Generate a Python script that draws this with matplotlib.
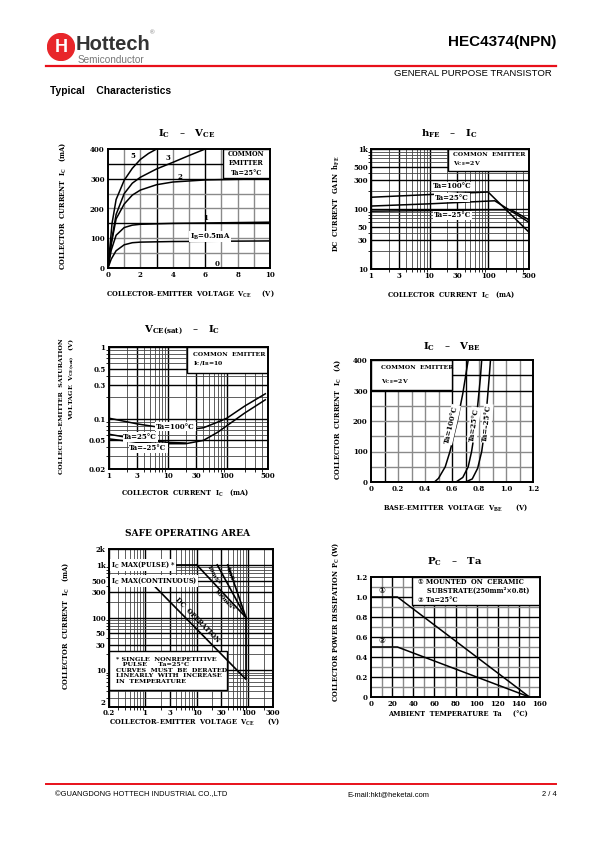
import matplotlib
matplotlib.use("Agg")
import matplotlib.pyplot as plt
import numpy as np
from matplotlib.patches import Circle, Rectangle
from matplotlib.lines import Line2D
from matplotlib.ticker import FixedLocator, FixedFormatter, LogLocator, NullFormatter

W, H = 595, 842

# ---------------- data ----------------
# Ic - Vce  (V, mA), one curve per base current
vce_05 = [0, 0.2, 0.5, 1, 1.5, 2, 4, 10]
ic_05 = [0, 30, 58, 78, 85, 87, 89, 91]
vce_1 = [0, 0.2, 0.5, 1, 1.5, 2, 4, 10]
ic_1 = [0, 60, 110, 136, 144, 147, 150, 154]
vce_2 = [0, 0.2, 0.5, 1, 1.5, 2, 3, 4, 6, 10]
ic_2 = [0, 80, 165, 215, 245, 262, 280, 289, 296, 300]
vce_3 = [0, 0.2, 0.5, 1, 1.5, 2, 3, 4, 5, 6]
ic_3 = [0, 85, 180, 250, 285, 305, 333, 355, 378, 400]
vce_5 = [0, 0.1, 0.25, 0.5, 1, 1.5, 2, 2.5, 3]
ic_5 = [0, 60, 150, 230, 295, 335, 365, 385, 400]

# hFE - Ic  (mA)
hfe_ic_100 = [1, 10, 100, 500]
hfe_100 = [157, 174, 192, 41]
hfe_ic_25 = [1, 10, 130, 500]
hfe_25 = [112, 122, 137, 60]
hfe_ic_m25 = [1, 10, 100, 250, 500]
hfe_m25 = [92, 94, 97, 97, 66]

# VCE(sat) - Ic  (mA, V)
sat_ic = [1, 3, 10, 20, 40, 70, 100, 200, 450]
sat_100 = [0.102, 0.085, 0.073, 0.070, 0.075, 0.090, 0.102, 0.15, 0.223]
sat_ic_25 = [1, 3, 10, 20]
sat_25 = [0.061, 0.052, 0.047, 0.046]
sat_ic_low = [1, 3, 10, 20, 40, 70, 100, 200, 450]
sat_low = [0.0525, 0.047, 0.045, 0.045, 0.05, 0.065, 0.08, 0.12, 0.184]

# Ic - Vbe  (V, mA)
vbe_100 = [0, 0.47, 0.5, 0.55, 0.585, 0.64, 0.68, 0.72]
ic_vbe_100 = [0, 0, 12, 50, 100, 200, 290, 400]
vbe_25 = [0, 0.63, 0.68, 0.72, 0.745, 0.77, 0.79, 0.81, 0.82]
ic_vbe_25 = [0, 0, 15, 50, 100, 170, 250, 340, 400]
vbe_m25 = [0, 0.7, 0.75, 0.79, 0.82, 0.845, 0.86, 0.875, 0.885]
ic_vbe_m25 = [0, 0, 10, 45, 100, 180, 260, 340, 400]

# Safe operating area  (V, mA)
soa_pulse_v = [0.2, 10]
soa_pulse_i = [1000, 1000]
soa_dc_v = [0.2, 1.2, 90, 90]
soa_dc_i = [500, 500, 6.7, 100]
soa_100ms_v = [10, 90]
soa_100ms_i = [1000, 100]
soa_10ms_v = [25, 90]
soa_10ms_i = [1000, 100]
soa_1ms_v = [40, 90]
soa_1ms_i = [1000, 100]

# Pc - Ta  (degC, W)
ta_1 = [0, 25, 150]
pc_1 = [1.0, 1.0, 0]
ta_2 = [0, 25, 150]
pc_2 = [0.5, 0.5, 0]

plt.rcParams['font.family'] = ['DejaVu Serif', 'DejaVu Sans']
plt.rcParams['font.weight'] = 'bold'
plt.rcParams['mathtext.default'] = 'regular'

TICK = 5.0
LAB = 4.8
TTL = 7.3
BOX = 4.4
GRAY = '#8a8a8a'

fig = plt.figure(figsize=(W / 100, H / 100), dpi=100)


def ftext(x, y, s, **kw):
    return fig.text(x / W, 1 - y / H, s, **kw)


def make_ax(x0, y0, x1, y1):
    ax = fig.add_axes([x0 / W, 1 - y1 / H, (x1 - x0) / W, (y1 - y0) / H])
    for s in ax.spines.values():
        s.set_linewidth(1.4)
        s.set_zorder(6)
    ax.tick_params(length=0, labelsize=TICK, pad=2.5)
    return ax


def log_grid(ax):
    ax.xaxis.set_minor_locator(LogLocator(base=10, subs=np.arange(2, 10)))
    ax.yaxis.set_minor_locator(LogLocator(base=10, subs=np.arange(2, 10)))
    ax.xaxis.set_minor_formatter(NullFormatter())
    ax.yaxis.set_minor_formatter(NullFormatter())
    ax.grid(which='major', color='black', lw=1.0, zorder=1)
    ax.grid(which='minor', color='#444444', lw=0.6, zorder=1)
    ax.set_axisbelow(True)


def white_box(ax, x0, y0, x1, y1):
    ax.add_patch(Rectangle((x0, y0), x1 - x0, y1 - y0, transform=ax.transAxes,
                           fc='white', ec='black', lw=1.0, zorder=3))


wb = dict(fc='white', ec='none', pad=0.6)

# ---------------- header / footer ----------------
logo = fig.add_axes([47 / W, 1 - 61 / H, 28 / W, 28 / H])
logo.set_xlim(0, 1)
logo.set_ylim(0, 1)
logo.axis('off')
logo.add_patch(Circle((0.5, 0.5), 0.48, color='#e8262a'))
logo.text(0.5, 0.47, 'H', color='white', ha='center', va='center',
          fontsize=13, family='Liberation Sans', weight='bold')
ftext(76, 50.5, 'Hottech', fontsize=14.5, family='Liberation Sans', weight='bold',
      color='#333333', va='baseline')
ftext(78, 55, 'Semiconductor', fontsize=7.2, family='Liberation Sans', weight='normal',
      color='#777777', va='top')
ftext(150, 33, '®', fontsize=4.5, family='Liberation Sans', weight='normal', color='#777777',
      va='center')
ftext(556, 42, 'HEC4374(NPN)', fontsize=11, family='Liberation Sans', weight='bold',
      ha='right', va='center')
fig.add_artist(Line2D([46 / W, 556 / W], [1 - 65.7 / H] * 2, color='#e8101a', lw=1.6))
ftext(552, 74, 'GENERAL PURPOSE TRANSISTOR', fontsize=6.8, family='Liberation Sans',
      weight='normal', ha='right', va='center')
ftext(50, 90.5, 'Typical    Characteristics', fontsize=7.4, family='Liberation Sans',
      weight='bold', va='center')

fig.add_artist(Line2D([46 / W, 556 / W], [1 - 784.3 / H] * 2, color='#e8101a', lw=1.4))
ftext(55, 795, '©GUANGDONG HOTTECH INDUSTRIAL CO.,LTD', fontsize=5.4,
      family='Liberation Sans', weight='normal', va='center')
ftext(347, 795, 'E-mail:hkt@heketai.com', fontsize=5.4, family='Liberation Sans',
      weight='normal', va='center')
ftext(557, 795, '2 / 4', fontsize=5.4, family='Liberation Sans', weight='normal',
      ha='right', va='center')

# ---------------- Ic - Vce ----------------
ax1 = make_ax(108, 149, 270, 268)
ax1.set_xlim(0, 10)
ax1.set_ylim(0, 400)
ax1.set_xticks(np.arange(0, 11, 2))
ax1.set_yticks(np.arange(0, 401, 100))
for v in range(1, 10):
    ax1.axvline(v, color='black' if v in (3, 6) else GRAY, lw=1.0, zorder=1)
for v in range(50, 400, 50):
    ax1.axhline(v, color='black' if v in (150, 300, 350) else GRAY, lw=1.0, zorder=1)
white_box(ax1, 0.711, 0.756, 1.0, 1.0)
ax1.text(0.855, 0.88, 'COMMON\nEMITTER\nTa=25°C', transform=ax1.transAxes, ha='center',
         va='center', fontsize=4.7, zorder=7, linespacing=1.25)
for xs, ys in [(vce_05, ic_05), (vce_1, ic_1), (vce_2, ic_2), (vce_3, ic_3), (vce_5, ic_5)]:
    ax1.plot(xs, ys, color='black', lw=1.1, zorder=4, clip_on=True)
ax1.plot([0, 10], [0, 0], color='black', lw=1.1, zorder=4)
ax1.text(1.55, 378, '5', fontsize=TICK, ha='center', va='center', zorder=7)
ax1.text(3.7, 370, '3', fontsize=TICK, ha='center', va='center', zorder=7)
ax1.text(4.45, 307, '2', fontsize=TICK, ha='center', va='center', zorder=7)
ax1.text(6.05, 168, '1', fontsize=TICK, ha='center', va='center', zorder=7)
ax1.text(6.3, 106, 'I$_B$=0.5mA', fontsize=TICK, ha='center', va='center', zorder=7, bbox=wb)
ax1.text(6.76, 15, '0', fontsize=TICK, ha='center', va='center', zorder=7)
ftext(187, 134, 'I$_C$   –   V$_{CE}$', fontsize=TTL, ha='center', va='center')
ftext(63, 206, 'COLLECTOR  CURRENT  I$_C$   (mA)', fontsize=LAB, rotation=90,
      ha='center', va='center')
ftext(190, 294, 'COLLECTOR–EMITTER  VOLTAGE  V$_{CE}$     (V)', fontsize=LAB,
      ha='center', va='center')

# ---------------- hFE - Ic ----------------
ax2 = make_ax(371, 149, 529, 269)
ax2.set_xscale('log')
ax2.set_yscale('log')
ax2.set_xlim(1, 500)
ax2.set_ylim(10, 1000)
log_grid(ax2)
ax2.xaxis.set_major_locator(FixedLocator([1, 3, 10, 30, 100, 500]))
ax2.xaxis.set_major_formatter(FixedFormatter(['1', '3', '10', '30', '100', '500']))
ax2.yaxis.set_major_locator(FixedLocator([10, 30, 50, 100, 300, 500, 1000]))
ax2.yaxis.set_major_formatter(FixedFormatter(['10', '30', '50', '100', '300', '500', '1k']))
white_box(ax2, 0.488, 0.813, 1.0, 1.0)
ax2.text(0.52, 0.905, 'COMMON  EMITTER\nV$_{CE}$=2V', transform=ax2.transAxes, ha='left',
         va='center', fontsize=BOX, zorder=7, linespacing=1.35)
for xs, ys in [(hfe_ic_100, hfe_100), (hfe_ic_25, hfe_25), (hfe_ic_m25, hfe_m25)]:
    ax2.plot(xs, ys, color='black', lw=1.1, zorder=4)
ax2.text(24, 238, 'Ta=100°C', fontsize=TICK, ha='center', va='center', zorder=7, bbox=wb)
ax2.text(24, 155, 'Ta=25°C', fontsize=TICK, ha='center', va='center', zorder=7, bbox=wb)
ax2.text(25, 78, 'Ta=–25°C', fontsize=TICK, ha='center', va='center', zorder=7, bbox=wb)
ftext(449, 134, 'h$_{FE}$   –   I$_C$', fontsize=TTL, ha='center', va='center')
ftext(336, 204, 'DC  CURRENT  GAIN  h$_{FE}$', fontsize=LAB, rotation=90,
      ha='center', va='center')
ftext(451, 295, 'COLLECTOR  CURRENT  I$_C$   (mA)', fontsize=LAB, ha='center', va='center')

# ---------------- VCE(sat) - Ic ----------------
ax3 = make_ax(109, 347, 268, 469)
ax3.set_xscale('log')
ax3.set_yscale('log')
ax3.set_xlim(1, 500)
ax3.set_ylim(0.02, 1)
log_grid(ax3)
ax3.xaxis.set_major_locator(FixedLocator([1, 3, 10, 30, 100, 500]))
ax3.xaxis.set_major_formatter(FixedFormatter(['1', '3', '10', '30', '100', '500']))
ax3.yaxis.set_major_locator(FixedLocator([0.02, 0.05, 0.1, 0.3, 0.5, 1]))
ax3.yaxis.set_major_formatter(FixedFormatter(['0.02', '0.05', '0.1', '0.3', '0.5', '1']))
white_box(ax3, 0.488, 0.786, 1.0, 1.0)
ax3.text(0.53, 0.893, 'COMMON  EMITTER\nI$_C$/I$_B$=10', transform=ax3.transAxes,
         ha='left', va='center', fontsize=BOX, zorder=7, linespacing=1.35)
for xs, ys in [(sat_ic, sat_100), (sat_ic_25, sat_25), (sat_ic_low, sat_low)]:
    ax3.plot(xs, ys, color='black', lw=1.1, zorder=4)
ax3.text(13.5, 0.078, 'Ta=100°C', fontsize=TICK, ha='center', va='center', zorder=7, bbox=wb)
ax3.text(3.4, 0.056, 'Ta=25°C', fontsize=TICK, ha='center', va='center', zorder=7, bbox=wb)
ax3.text(4.6, 0.039, 'Ta=–25°C', fontsize=TICK, ha='center', va='center', zorder=7, bbox=wb)
ftext(182, 330, 'V$_{CE(sat)}$   –   I$_C$', fontsize=TTL, ha='center', va='center')
ftext(62, 338, 'COLLECTOR–EMITTER  SATURATION', fontsize=4.6, rotation=90,
      ha='center', va='top')
ftext(71.5, 338, 'VOLTAGE  V$_{CE(sat)}$   (V)', fontsize=4.6, rotation=90,
      ha='center', va='top')
ftext(185, 493, 'COLLECTOR  CURRENT  I$_C$   (mA)', fontsize=LAB, ha='center', va='center')

# ---------------- Ic - Vbe ----------------
ax4 = make_ax(371, 360, 533, 482)
ax4.set_xlim(0, 1.2)
ax4.set_ylim(0, 400)
ax4.set_xticks(np.arange(0, 1.21, 0.2))
ax4.set_xticklabels(['0', '0.2', '0.4', '0.6', '0.8', '1.0', '1.2'])
ax4.set_yticks(np.arange(0, 401, 100))
for i in range(1, 12):
    ax4.axvline(i / 10, color='black' if i in (1, 6, 7) else GRAY, lw=1.0, zorder=1)
for v in range(50, 400, 50):
    ax4.axhline(v, color='black' if v in (300, 350) else GRAY, lw=1.0, zorder=1)
white_box(ax4, 0.0, 0.753, 0.498, 1.0)
ax4.text(0.06, 0.876, 'COMMON  EMITTER\n\nV$_{CE}$=2V', transform=ax4.transAxes, ha='left',
         va='center', fontsize=BOX, zorder=7, linespacing=1.2)
for xs, ys in [(vbe_100, ic_vbe_100), (vbe_25, ic_vbe_25), (vbe_m25, ic_vbe_m25)]:
    ax4.plot(xs, ys, color='black', lw=1.1, zorder=4)
ax4.text(0.598, 188, 'Ta=100°C', fontsize=TICK, rotation=77, ha='center', va='center',
         zorder=7, bbox=wb)
ax4.text(0.762, 188, 'Ta=25°C', fontsize=TICK, rotation=82, ha='center', va='center',
         zorder=7, bbox=wb)
ax4.text(0.858, 192, 'Ta=–25°C', fontsize=TICK, rotation=84, ha='center', va='center',
         zorder=7, bbox=wb)
ftext(452, 347, 'I$_C$   –   V$_{BE}$', fontsize=TTL, ha='center', va='center')
ftext(338, 420, 'COLLECTOR  CURRENT  I$_C$   (A)', fontsize=LAB, rotation=90,
      ha='center', va='center')
ftext(455, 508, 'BASE–EMITTER  VOLTAGE  V$_{BE}$      (V)', fontsize=LAB,
      ha='center', va='center')

# ---------------- Safe operating area ----------------
ax5 = make_ax(109, 549, 273, 707)
ax5.set_xscale('log')
ax5.set_yscale('log')
ax5.set_xlim(0.2, 300)
ax5.set_ylim(2, 2000)
log_grid(ax5)
ax5.xaxis.set_major_locator(FixedLocator([0.2, 1, 3, 10, 30, 100, 300]))
ax5.xaxis.set_major_formatter(FixedFormatter(['0.2', '1', '3', '10', '30', '100', '300']))
ax5.yaxis.set_major_locator(FixedLocator([2, 10, 30, 50, 100, 300, 500, 1000, 2000]))
ax5.yaxis.set_major_formatter(FixedFormatter(['2', '10', '30', '50', '100', '300', '500',
                                              '1k', '2k']))
ax5.tick_params(axis='x', pad=1.5)
ax5.get_yticklabels()[0].set_verticalalignment('bottom')
white_box(ax5, 0.0, 0.11, 0.72, 0.352)
ax5.text(0.04, 0.232, '* SINGLE  NONREPETITIVE\n   PULSE     Ta=25°C\n'
         'CURVES  MUST  BE  DERATED\nLINEARLY  WITH  INCREASE\nIN  TEMPERATURE',
         transform=ax5.transAxes, ha='left', va='center', fontsize=4.6, zorder=7,
         linespacing=1.15)
for xs, ys in [(soa_pulse_v, soa_pulse_i), (soa_dc_v, soa_dc_i), (soa_100ms_v, soa_100ms_i),
               (soa_10ms_v, soa_10ms_i), (soa_1ms_v, soa_1ms_i)]:
    ax5.plot(xs, ys, color='black', lw=1.2, zorder=4)


def line_angle(ax, p0, p1):
    a = ax.transData.transform(p0)
    b = ax.transData.transform(p1)
    return np.degrees(np.arctan2(b[1] - a[1], b[0] - a[0]))


ang_dc = line_angle(ax5, (1.2, 500), (90, 6.7))
ang_100 = line_angle(ax5, (10, 1000), (90, 100))
ang_10 = line_angle(ax5, (25, 1000), (90, 100))
ang_1 = line_angle(ax5, (40, 1000), (90, 100))
ax5.text(0.215, 1000, 'I$_C$ MAX(PULSE) *', fontsize=4.7, ha='left', va='center',
         zorder=7, bbox=wb)
ax5.text(0.215, 500, 'I$_C$ MAX(CONTINUOUS)', fontsize=4.7, ha='left', va='center',
         zorder=7, bbox=wb)
ax5.text(10.5, 88, 'DC  OPERATION', fontsize=4.7, rotation=ang_dc, ha='center', va='center',
         zorder=7, rotation_mode='anchor')
ax5.text(34, 215, '100mS*', fontsize=4.6, rotation=ang_100, ha='center', va='center',
         zorder=7, rotation_mode='anchor')
ax5.text(21, 640, '10mS*', fontsize=4.3, rotation=ang_10, ha='center', va='center',
         zorder=7, rotation_mode='anchor')
ax5.text(43, 650, '1mS*', fontsize=4.3, rotation=ang_1, ha='center', va='center',
         zorder=7, rotation_mode='anchor')
ftext(188, 534, 'SAFE OPERATING AREA', fontsize=6.6, ha='center', va='center')
ftext(66, 626, 'COLLECTOR  CURRENT  I$_C$   (mA)', fontsize=LAB, rotation=90,
      ha='center', va='center')
ftext(194, 722, 'COLLECTOR–EMITTER  VOLTAGE  V$_{CE}$      (V)', fontsize=LAB,
      ha='center', va='center')

# ---------------- Pc - Ta ----------------
ax6 = make_ax(371, 577, 540, 697)
ax6.set_xlim(0, 160)
ax6.set_ylim(0, 1.2)
ax6.set_xticks(np.arange(0, 161, 20))
ax6.set_yticks(np.arange(0, 1.21, 0.2))
ax6.set_yticklabels(['0', '0.2', '0.4', '0.6', '0.8', '1.0', '1.2'])
for v in range(10, 160, 10):
    ax6.axvline(v, color='black' if v % 20 == 0 else GRAY, lw=1.0, zorder=1)
for i in range(1, 12):
    ax6.axhline(i / 10, color='black' if i % 2 == 0 else GRAY, lw=1.0, zorder=1)
white_box(ax6, 0.242, 0.763, 1.0, 1.0)
ax6.text(0.28, 0.882, '\u2460 MOUNTED  ON  CERAMIC\n    SUBSTRATE(250mm²×0.8t)\n\u2461 Ta=25°C',
         transform=ax6.transAxes, ha='left', va='center', fontsize=4.8, zorder=7,
         linespacing=1.2)
for xs, ys in [(ta_1, pc_1), (ta_2, pc_2)]:
    ax6.plot(xs, ys, color='black', lw=1.1, zorder=4)
ax6.text(10, 1.06, '\u2460', fontsize=5.8, ha='center', va='center', zorder=7)
ax6.text(10, 0.56, '\u2461', fontsize=5.8, ha='center', va='center', zorder=7)
ftext(455, 562, 'P$_C$   –   Ta', fontsize=TTL, ha='center', va='center')
ftext(336, 622, 'COLLECTOR POWER DISSIPATION P$_C$ (W)', fontsize=LAB, rotation=90,
      ha='center', va='center')
ftext(458, 714, 'AMBIENT  TEMPERATURE  Ta     (°C)', fontsize=LAB, ha='center', va='center')

fig.savefig('out.png', dpi=100)
